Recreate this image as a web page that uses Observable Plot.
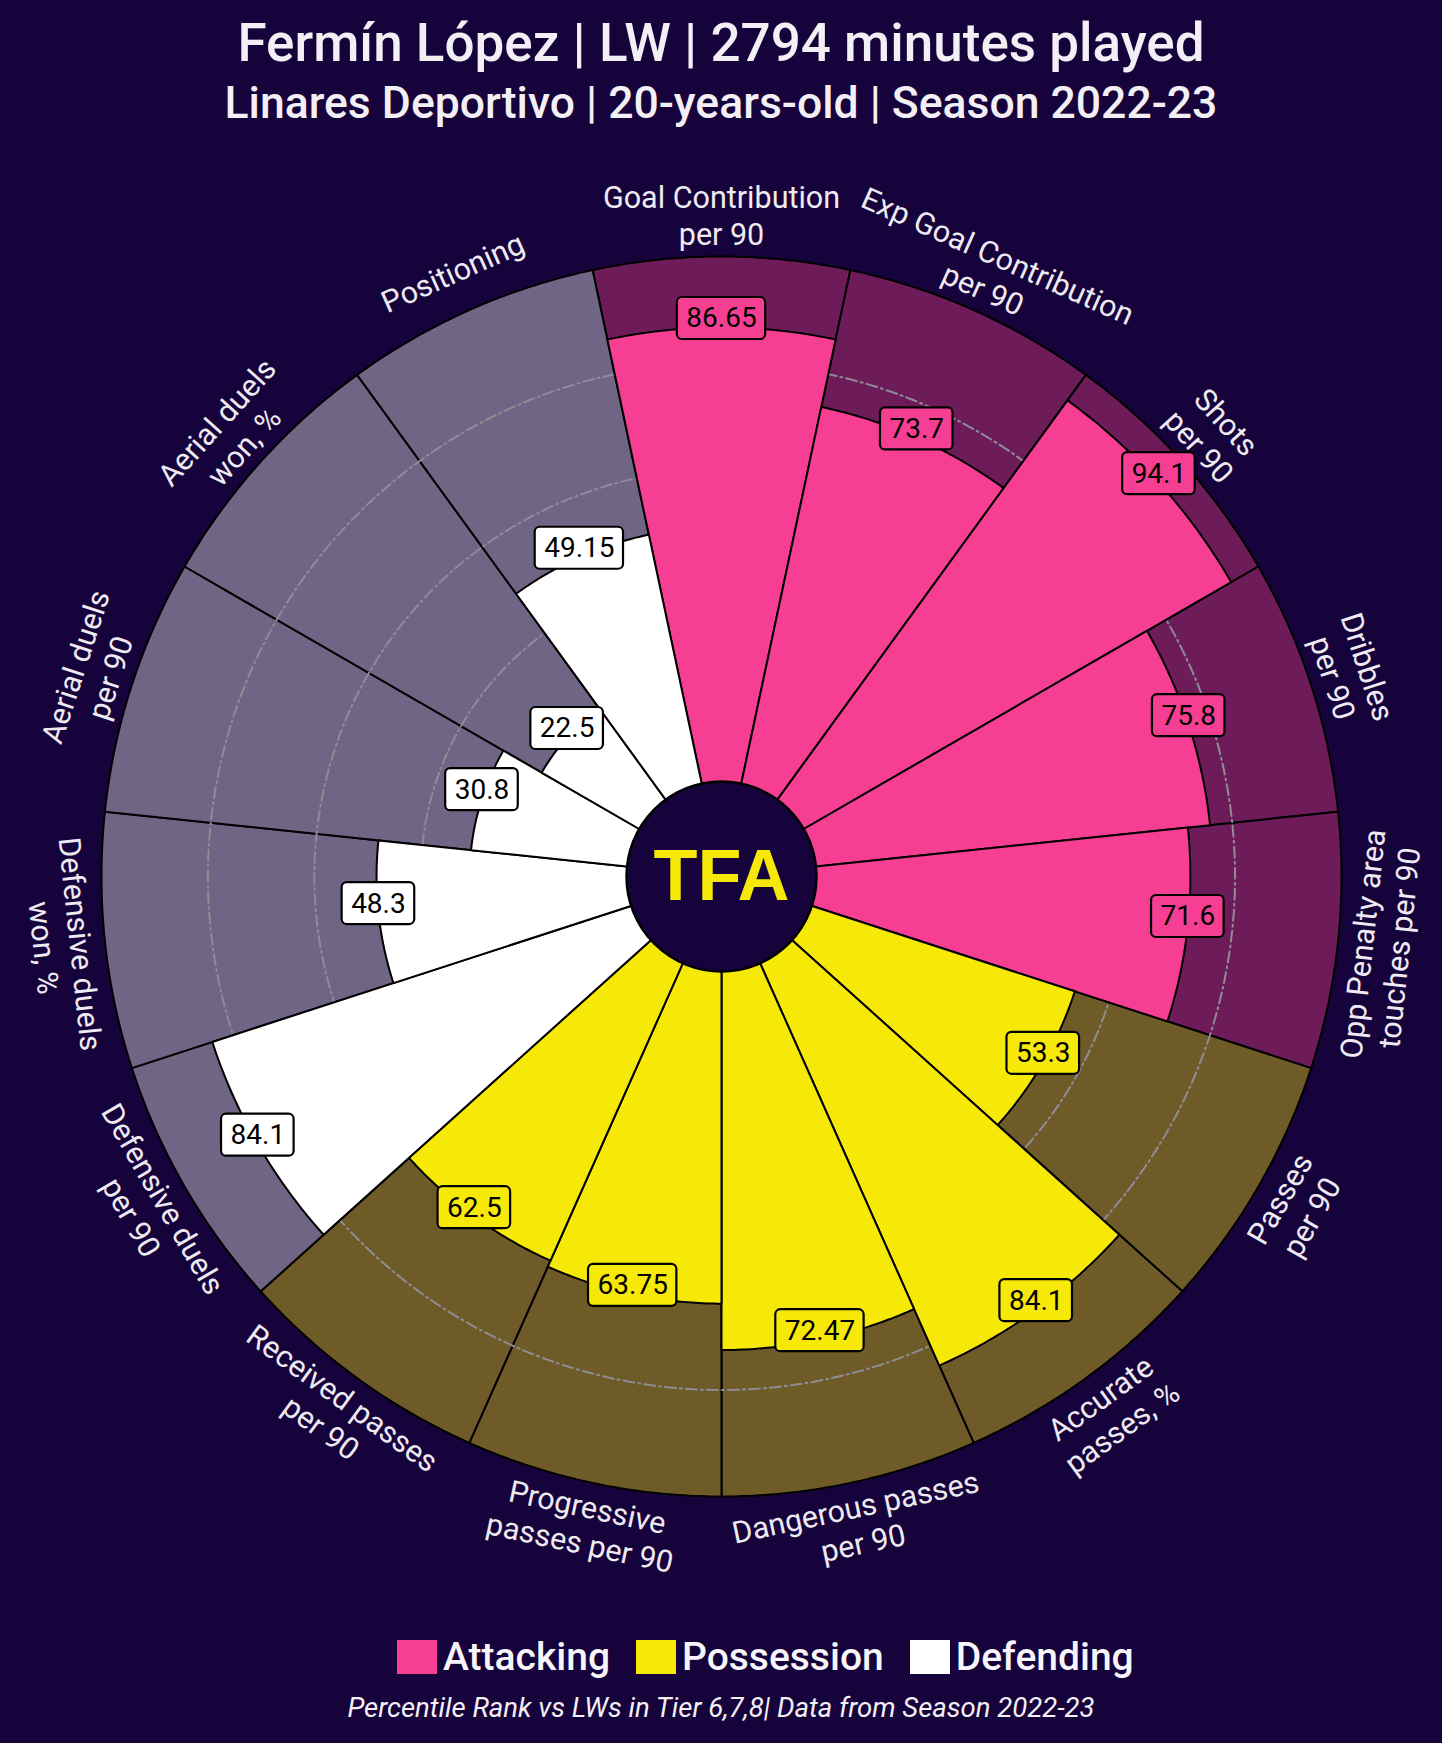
<!DOCTYPE html>
<html>
<head>
<meta charset="utf-8">
<script src="https://cdn.jsdelivr.net/npm/d3@7"></script>
<script src="https://cdn.jsdelivr.net/npm/@observablehq/plot@0.6"></script>
<style>
  html, body { margin: 0; padding: 0; background: #17033B; }
  #page { position: relative; width: 1442px; height: 1743px; background: #17033B; font-family: Roboto, sans-serif; overflow: hidden; }
  .t { position: absolute; left: 0; width: 1442px; text-align: center; color: #F2EFF5; white-space: nowrap; }
  #title { top: 13px; font-size: 53px; font-weight: 500; line-height: 60px; }
  #subtitle { top: 77px; font-size: 44.5px; font-weight: 500; line-height: 52px; }
  #chart { position: absolute; left: 0; top: 140px; }
  #legend { position: absolute; left: 397px; top: 1634px; display: flex; align-items: center; height: 46px; }
  .li { display: flex; align-items: center; margin-right: 26px; }
  .sw { width: 40px; height: 34px; margin-right: 6px; }
  .lt { color: #F7F5FA; font-size: 39px; font-weight: 500; line-height: 46px; }
  #caption { top: 1692px; font-size: 27.5px; font-style: italic; line-height: 32px; color: #F2EFF5; }
</style>
</head>
<body>
<div id="page">
  <div class="t" id="title"></div>
  <div class="t" id="subtitle"></div>
  <div id="chart"></div>
  <div id="legend"></div>
  <div class="t" id="caption"></div>
</div>
<script>
// ---------------- data ----------------
const titleText = "Fermín López | LW | 2794 minutes played";
const subtitleText = "Linares Deportivo | 20-years-old | Season 2022-23";
const captionText = "Percentile Rank vs LWs in Tier 6,7,8| Data from Season 2022-23";

const params = [
  "Goal Contribution\nper 90",
  "Exp Goal Contribution\nper 90",
  "Shots\nper 90",
  "Dribbles\nper 90",
  "Opp Penalty area\ntouches per 90",
  "Passes\nper 90",
  "Accurate\npasses, %",
  "Dangerous passes\nper 90",
  "Progressive\npasses per 90",
  "Received passes\nper 90",
  "Defensive duels\nper 90",
  "Defensive duels\nwon, %",
  "Aerial duels\nper 90",
  "Aerial duels\nwon, %",
  "Positioning"
];
const values = [86.65, 73.7, 94.1, 75.8, 71.6, 53.3, 84.1, 72.47, 63.75, 62.5, 84.1, 48.3, 30.8, 22.5, 49.15];
const groups = ["Attacking","Attacking","Attacking","Attacking","Attacking",
                "Possession","Possession","Possession","Possession","Possession",
                "Defending","Defending","Defending","Defending","Defending"];
const legendGroups = ["Attacking", "Possession", "Defending"];
const barColors = {Attacking: "#F63F92", Possession: "#F6E908", Defending: "#FFFFFF"};
const bgColors = {Attacking: "#6E1B5A", Possession: "#6E5B28", Defending: "#716586"};
const gridLevels = [20, 40, 60, 80];
const logoText = "TFA";

// ---------------- geometry helpers ----------------
const BG = "#17033B";
const R = 620, R0 = 88, LABEL_R = 662;
const n = values.length, step = 360 / n, half = step / 2;
const rad = v => R0 + v / 100 * (R - R0);
const polar = (deg, r) => ({x: r * Math.sin(deg * Math.PI / 180), y: r * Math.cos(deg * Math.PI / 180)});

function wedge(i, rOuter, color) {
  const pts = [];
  const c = i * step, N = 48;
  for (let k = 0; k <= N; k++) pts.push({...polar(c - half + 2 * half * k / N, rOuter), slice: i, color});
  for (let k = N; k >= 0; k--) pts.push({...polar(c - half + 2 * half * k / N, R0), slice: i, color});
  return pts;
}
const bgPts = params.flatMap((p, i) => wedge(i, R, bgColors[groups[i]]));
const barPts = values.flatMap((v, i) => wedge(i, rad(v), barColors[groups[i]]));
const gridPts = gridLevels.flatMap(g => d3.range(0, 360, 2).map(a => ({...polar(a, rad(g)), level: g})));

// value labels
const ctx = document.createElement("canvas").getContext("2d");
ctx.font = "28px Roboto";
const valLabels = values.map((v, i) => {
  const p = polar(i * step, rad(v));
  const w = ctx.measureText(String(v)).width + 18;
  return {x: p.x, y: p.y + 9, text: String(v), w, h: 42, color: barColors[groups[i]]};
});
// parameter labels
const paramLabels = params.map((p, i) => {
  const a = i * step;
  const q = polar(a, LABEL_R);
  const rot = (a > 90 && a < 270) ? a - 180 : (a > 180 ? a - 360 : a);
  return {x: q.x, y: q.y, text: p, rot};
});

// ---------------- chart ----------------
const chart = Plot.plot({
  width: 1442, height: 1480, margin: 0,
  x: {domain: [-721, 721], axis: null},
  y: {domain: [-744, 736], axis: null},
  color: {type: "identity"},
  style: {background: "transparent", fontFamily: "Roboto, sans-serif"},
  marks: [
    Plot.line(bgPts, {x: "x", y: "y", z: "slice", fill: "color", stroke: "#000", strokeWidth: 2, curve: "linear-closed"}),
    Plot.line(gridPts, {x: "x", y: "y", z: "level", stroke: "#8E8D96", strokeWidth: 2, strokeDasharray: "11,4,2,4", curve: "linear-closed"}),
    Plot.line(barPts, {x: "x", y: "y", z: "slice", fill: "color", stroke: "#000", strokeWidth: 2, curve: "linear-closed"}),
    Plot.dot([{x: 0, y: 0}], {x: "x", y: "y", r: 95, fill: BG, stroke: "#000", strokeWidth: 2.5}),
    Plot.text([{x: 0, y: 0, t: logoText}], {x: "x", y: "y", text: "t", fill: "#F6E908", fontSize: 72, fontWeight: 900, fontFamily: "Liberation Sans, Arial, sans-serif"}),
    Plot.rect(valLabels, {x1: d => d.x - d.w / 2, x2: d => d.x + d.w / 2, y1: d => d.y - d.h / 2, y2: d => d.y + d.h / 2, fill: "color", stroke: "#000", strokeWidth: 2.2, rx: 5}),
    Plot.text(valLabels, {x: "x", y: "y", text: "text", fill: "#000", fontSize: 28}),
    Plot.text(paramLabels, {x: "x", y: "y", text: "text", rotate: "rot", fill: "#EEEAF2", fontSize: 30.5, lineHeight: 1.2, textAnchor: "middle", lineAnchor: "middle"})
  ]
});
document.getElementById("chart").appendChild(chart);

// ---------------- html texts ----------------
document.getElementById("title").textContent = titleText;
document.getElementById("subtitle").textContent = subtitleText;
document.getElementById("caption").textContent = captionText;
const leg = document.getElementById("legend");
legendGroups.forEach(g => {
  const it = document.createElement("div"); it.className = "li";
  const sw = document.createElement("div"); sw.className = "sw"; sw.style.background = barColors[g];
  const tx = document.createElement("div"); tx.className = "lt"; tx.textContent = g;
  it.appendChild(sw); it.appendChild(tx); leg.appendChild(it);
});
</script>
</body>
</html>
